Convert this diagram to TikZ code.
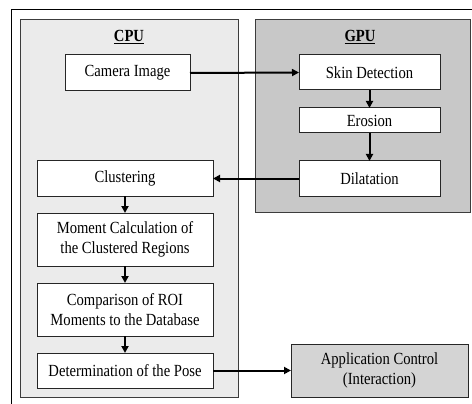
\documentclass[tikz,border=0pt]{standalone}
\usepackage{fontspec}
\setmainfont{Liberation Serif}[FakeStretch=0.86]
\usetikzlibrary{arrows.meta}
\definecolor{cpufill}{RGB}{235,235,235}
\definecolor{gpufill}{RGB}{200,200,200}
\definecolor{appfill}{RGB}{212,212,212}
\definecolor{panelline}{RGB}{60,60,60}
\tikzset{
  stepbox/.style={draw=black!85, line width=1pt, fill=white, inner sep=0pt, outer sep=0pt, align=center,
    font=\fontsize{17}{20}\selectfont},
  panel/.style={draw=panelline, line width=1pt},
  flow/.style={line width=2pt, -{Triangle[length=7pt,width=7pt]}},
  title/.style={font=\fontsize{17}{20}\selectfont\bfseries}
}
\begin{document}
\begin{tikzpicture}[x=1pt,y=-1pt]
\useasboundingbox (0,0) rectangle (472,404);
\begin{scope}
\clip (0,0) rectangle (472,404);
\draw[line width=1pt] (11,10) rectangle (490,420);
\end{scope}
\draw[panel, fill=cpufill] (20,20) rectangle (238,397);
\draw[panel, fill=gpufill] (255,20) rectangle (470,212);
\node[title] (cpu) at (129,37) {\underline{CPU}};
\node[title] (gpu) at (360,37) {\underline{GPU}};
\node[stepbox, minimum width=125pt, minimum height=36pt] (cam) at (127.5,73) {Camera Image};
\node[stepbox, minimum width=141pt, minimum height=35pt] (skin) at (369.5,72.5) {Skin Detection};
\node[stepbox, minimum width=141pt, minimum height=25pt] (ero) at (369.5,120.5) {Erosion};
\node[stepbox, minimum width=141pt, minimum height=35pt] (dil) at (369.5,178.5) {Dilatation};
\node[stepbox, minimum width=176pt, minimum height=35pt] (clu) at (125,178.5) {Clustering};
\node[stepbox, minimum width=176pt, minimum height=53pt] (mom) at (125,239.5) {Moment Calculation of\\the Clustered Regions};
\node[stepbox, minimum width=176pt, minimum height=53pt] (cmp) at (125,309.5) {Comparison of ROI\\Moments to the Database};
\node[stepbox, minimum width=176pt, minimum height=35pt] (det) at (125,370.5) {Determination of the Pose};
\node[stepbox, fill=appfill, minimum width=177pt, minimum height=53pt] (app) at (379.5,370.5) {Application Control\\(Interaction)};
\draw[flow] (cam.east) -- (skin.west);
\draw[flow] (skin.south) -- (ero.north);
\draw[flow] (ero.south) -- (dil.north);
\draw[flow] (dil.west) -- (clu.east);
\draw[flow] (clu.south) -- (mom.north);
\draw[flow] (mom.south) -- (cmp.north);
\draw[flow] (cmp.south) -- (det.north);
\draw[flow] (det.east) -- (app.west);
\end{tikzpicture}
\end{document}
